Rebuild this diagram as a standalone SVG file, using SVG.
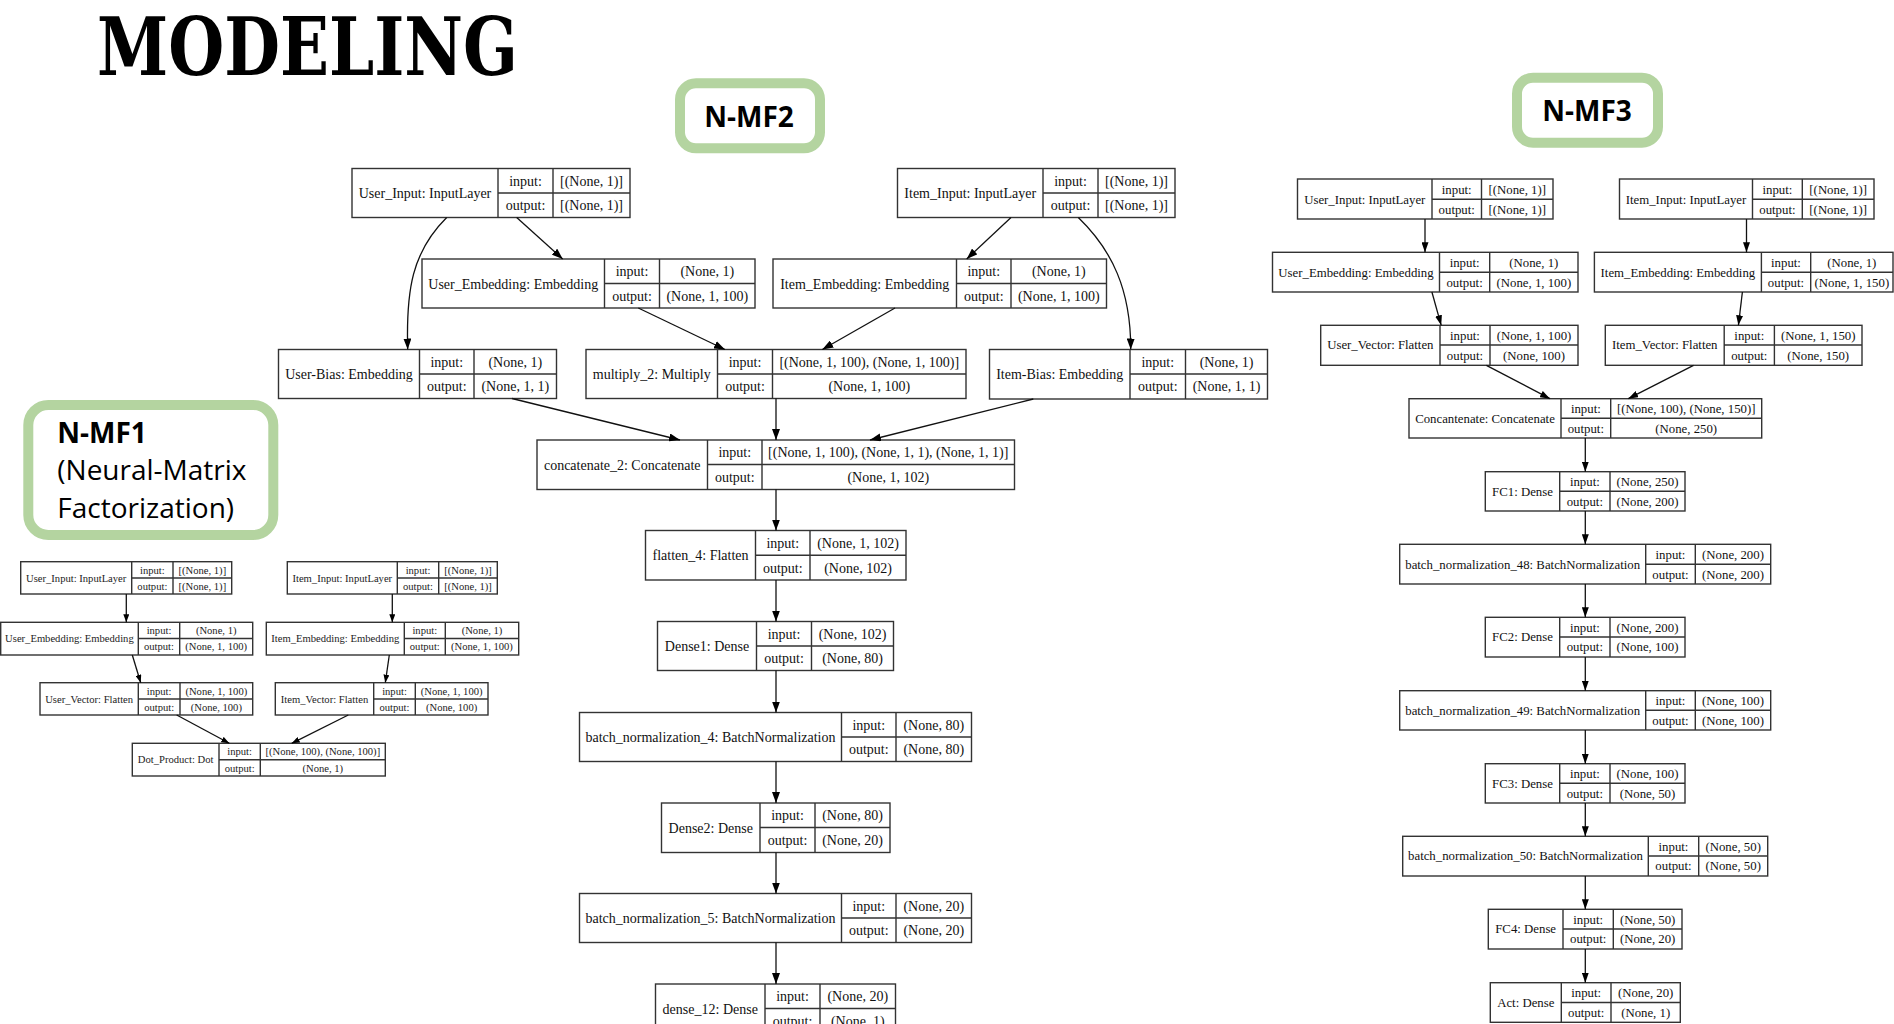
<svg xmlns="http://www.w3.org/2000/svg" width="1894" height="1024" viewBox="0 0 1894 1024">
<style>
.box{fill:#fff;stroke:#333;stroke-width:1.4}
.dv{fill:none;stroke:#333;stroke-width:1.4}
.n2{font-family:"Liberation Serif","Times New Roman",serif;font-size:14px;fill:#111;text-anchor:middle}
.n1{font-family:"Liberation Serif","Times New Roman",serif;font-size:10.6px;fill:#222;text-anchor:middle}
.n3{font-family:"Liberation Serif","Times New Roman",serif;font-size:12.8px;fill:#111;text-anchor:middle}
.edge{fill:none;stroke:#111;stroke-width:1.3}
.e2{marker-end:url(#a2)}
.e1{marker-end:url(#a1)}
.e3{marker-end:url(#a3)}
.tag{fill:#fff;stroke:#b4d4a0;stroke-width:10}
.tagt{font-family:"Open Sans","Noto Sans",sans-serif;font-size:28px;fill:#000}
</style>
<defs>
<marker id="a2" markerUnits="userSpaceOnUse" markerWidth="11" markerHeight="8" refX="11" refY="4" orient="auto"><path d="M0,0 L11,4 L0,8 z" fill="#000"/></marker>
<marker id="a1" markerUnits="userSpaceOnUse" markerWidth="8" markerHeight="6" refX="8" refY="3" orient="auto"><path d="M0,0 L8,3 L0,6 z" fill="#000"/></marker>
<marker id="a3" markerUnits="userSpaceOnUse" markerWidth="10" markerHeight="7" refX="10" refY="3.5" orient="auto"><path d="M0,0 L10,3.5 L0,7 z" fill="#000"/></marker>
</defs>
<rect width="1894" height="1024" fill="#fff"/>

<text x="97" y="75" font-family="DejaVu Serif" font-weight="bold" font-size="80" textLength="421" lengthAdjust="spacingAndGlyphs" fill="#000">MODELING</text>

<g id="tag-nmf2"><rect class="tag" x="680" y="83.3" width="140" height="65" rx="16"/><text class="tagt" x="749" y="126.7" text-anchor="middle" font-weight="bold">N-MF2</text></g>
<g id="tag-nmf3"><rect class="tag" x="1517" y="77.7" width="141" height="65" rx="16"/><text class="tagt" x="1587" y="120.7" text-anchor="middle" font-weight="bold">N-MF3</text></g>
<g id="tag-nmf1"><rect class="tag" x="28.3" y="405" width="245" height="130" rx="20"/><text class="tagt" x="57.3" y="442.7" font-weight="bold">N-MF1</text><text class="tagt" x="57.3" y="480">(Neural-Matrix</text><text class="tagt" x="57.3" y="518.3">Factorization)</text></g>

<!-- N-MF2 nodes -->
<g id="m2-user-input"><rect class="box" x="352" y="168.5" width="278" height="49"/><path class="dv" d="M498,168.5V217.5M553,168.5V217.5M498,193H630"/>
<text class="n2" x="425" y="198">User_Input: InputLayer</text><text class="n2" x="525.5" y="185.7">input:</text><text class="n2" x="525.5" y="210.2">output:</text><text class="n2" x="591.5" y="185.7">[(None, 1)]</text><text class="n2" x="591.5" y="210.2">[(None, 1)]</text></g>
<g id="m2-item-input"><rect class="box" x="897.5" y="168.5" width="277.5" height="49"/><path class="dv" d="M1043,168.5V217.5M1098,168.5V217.5M1043,193H1175"/>
<text class="n2" x="970.25" y="198">Item_Input: InputLayer</text><text class="n2" x="1070.5" y="185.7">input:</text><text class="n2" x="1070.5" y="210.2">output:</text><text class="n2" x="1136.5" y="185.7">[(None, 1)]</text><text class="n2" x="1136.5" y="210.2">[(None, 1)]</text></g>
<g id="m2-user-emb"><rect class="box" x="422" y="259" width="333" height="49"/><path class="dv" d="M604.5,259V308M659.5,259V308M604.5,283.5H755"/>
<text class="n2" x="513.25" y="288.5">User_Embedding: Embedding</text><text class="n2" x="632" y="276.2">input:</text><text class="n2" x="632" y="300.7">output:</text><text class="n2" x="707.25" y="276.2">(None, 1)</text><text class="n2" x="707.25" y="300.7">(None, 1, 100)</text></g>
<g id="m2-item-emb"><rect class="box" x="773" y="259" width="333.5" height="49"/><path class="dv" d="M956.5,259V308M1011,259V308M956.5,283.5H1106.5"/>
<text class="n2" x="864.75" y="288.5">Item_Embedding: Embedding</text><text class="n2" x="983.75" y="276.2">input:</text><text class="n2" x="983.75" y="300.7">output:</text><text class="n2" x="1058.75" y="276.2">(None, 1)</text><text class="n2" x="1058.75" y="300.7">(None, 1, 100)</text></g>
<g id="m2-user-bias"><rect class="box" x="278.5" y="349.5" width="278" height="49"/><path class="dv" d="M419.5,349.5V398.5M474,349.5V398.5M419.5,374H556.5"/>
<text class="n2" x="349" y="379">User-Bias: Embedding</text><text class="n2" x="446.75" y="366.7">input:</text><text class="n2" x="446.75" y="391.2">output:</text><text class="n2" x="515.25" y="366.7">(None, 1)</text><text class="n2" x="515.25" y="391.2">(None, 1, 1)</text></g>
<g id="m2-multiply"><rect class="box" x="586" y="349.5" width="380" height="49"/><path class="dv" d="M717.5,349.5V398.5M772.5,349.5V398.5M717.5,374H966"/>
<text class="n2" x="651.75" y="379">multiply_2: Multiply</text><text class="n2" x="745" y="366.7">input:</text><text class="n2" x="745" y="391.2">output:</text><text class="n2" x="869.25" y="366.7">[(None, 1, 100), (None, 1, 100)]</text><text class="n2" x="869.25" y="391.2">(None, 1, 100)</text></g>
<g id="m2-item-bias"><rect class="box" x="989.5" y="349.5" width="278" height="49.5"/><path class="dv" d="M1130,349.5V399M1185.5,349.5V399M1130,374H1267.5"/>
<text class="n2" x="1059.75" y="379">Item-Bias: Embedding</text><text class="n2" x="1157.75" y="366.7">input:</text><text class="n2" x="1157.75" y="391.2">output:</text><text class="n2" x="1226.5" y="366.7">(None, 1)</text><text class="n2" x="1226.5" y="391.2">(None, 1, 1)</text></g>
<g id="m2-concat"><rect class="box" x="537" y="440" width="477.5" height="49.5"/><path class="dv" d="M707.5,440V489.5M762,440V489.5M707.5,464.5H1014.5"/>
<text class="n2" x="622.25" y="469.5">concatenate_2: Concatenate</text><text class="n2" x="734.75" y="457.2">input:</text><text class="n2" x="734.75" y="482">output:</text><text class="n2" x="888.25" y="457.2">[(None, 1, 100), (None, 1, 1), (None, 1, 1)]</text><text class="n2" x="888.25" y="482">(None, 1, 102)</text></g>
<g id="m2-flatten"><rect class="box" x="645.5" y="530.5" width="260.5" height="49.5"/><path class="dv" d="M755.5,530.5V580M810,530.5V580M755.5,555.3H906"/>
<text class="n2" x="700.5" y="560.3">flatten_4: Flatten</text><text class="n2" x="782.75" y="548">input:</text><text class="n2" x="782.75" y="572.6">output:</text><text class="n2" x="858" y="548">(None, 1, 102)</text><text class="n2" x="858" y="572.6">(None, 102)</text></g>
<g id="m2-dense1"><rect class="box" x="657.5" y="621.5" width="236" height="49"/><path class="dv" d="M756.5,621.5V670.5M811.5,621.5V670.5M756.5,646H893.5"/>
<text class="n2" x="707" y="651">Dense1: Dense</text><text class="n2" x="784" y="638.7">input:</text><text class="n2" x="784" y="663.2">output:</text><text class="n2" x="852.5" y="638.7">(None, 102)</text><text class="n2" x="852.5" y="663.2">(None, 80)</text></g>
<g id="m2-bn4"><rect class="box" x="579.5" y="712.5" width="392" height="49"/><path class="dv" d="M841.5,712.5V761.5M896,712.5V761.5M841.5,737H971.5"/>
<text class="n2" x="710.5" y="742">batch_normalization_4: BatchNormalization</text><text class="n2" x="868.75" y="729.7">input:</text><text class="n2" x="868.75" y="754.2">output:</text><text class="n2" x="933.75" y="729.7">(None, 80)</text><text class="n2" x="933.75" y="754.2">(None, 80)</text></g>
<g id="m2-dense2"><rect class="box" x="661.5" y="803" width="228.5" height="49.5"/><path class="dv" d="M760,803V852.5M815,803V852.5M760,827.5H890"/>
<text class="n2" x="710.75" y="832.5">Dense2: Dense</text><text class="n2" x="787.5" y="820.2">input:</text><text class="n2" x="787.5" y="845">output:</text><text class="n2" x="852.5" y="820.2">(None, 80)</text><text class="n2" x="852.5" y="845">(None, 20)</text></g>
<g id="m2-bn5"><rect class="box" x="579.5" y="893.5" width="392" height="49"/><path class="dv" d="M841.5,893.5V942.5M896,893.5V942.5M841.5,918H971.5"/>
<text class="n2" x="710.5" y="923">batch_normalization_5: BatchNormalization</text><text class="n2" x="868.75" y="910.7">input:</text><text class="n2" x="868.75" y="935.2">output:</text><text class="n2" x="933.75" y="910.7">(None, 20)</text><text class="n2" x="933.75" y="935.2">(None, 20)</text></g>
<g id="m2-dense12"><rect class="box" x="655.5" y="984" width="240" height="49"/><path class="dv" d="M765,984V1033M820,984V1033M765,1008.5H895.5"/>
<text class="n2" x="710.25" y="1013.5">dense_12: Dense</text><text class="n2" x="792.5" y="1001.2">input:</text><text class="n2" x="792.5" y="1025.7">output:</text><text class="n2" x="857.75" y="1001.2">(None, 20)</text><text class="n2" x="857.75" y="1025.7">(None, 1)</text></g>

<!-- N-MF1 nodes -->
<g id="m1-user-input"><rect class="box" x="20.7" y="561.7" width="211" height="32.3"/><path class="dv" d="M131.7,561.7V594M173,561.7V594M131.7,578H231.7"/>
<text class="n1" x="76.2" y="581.7">User_Input: InputLayer</text><text class="n1" x="152.35" y="573.5">input:</text><text class="n1" x="152.35" y="589.7">output:</text><text class="n1" x="202.35" y="573.5">[(None, 1)]</text><text class="n1" x="202.35" y="589.7">[(None, 1)]</text></g>
<g id="m1-item-input"><rect class="box" x="287.3" y="561.7" width="210" height="32.3"/><path class="dv" d="M397.3,561.7V594M438.7,561.7V594M397.3,578H497.3"/>
<text class="n1" x="342.3" y="581.7">Item_Input: InputLayer</text><text class="n1" x="418" y="573.5">input:</text><text class="n1" x="418" y="589.7">output:</text><text class="n1" x="468" y="573.5">[(None, 1)]</text><text class="n1" x="468" y="589.7">[(None, 1)]</text></g>
<g id="m1-user-emb"><rect class="box" x="0.7" y="622.3" width="252" height="32.7"/><path class="dv" d="M138.3,622.3V655M179.7,622.3V655M138.3,638.5H252.7"/>
<text class="n1" x="69.4" y="642.2">User_Embedding: Embedding</text><text class="n1" x="159" y="634.1">input:</text><text class="n1" x="159" y="650.4">output:</text><text class="n1" x="216.2" y="634.1">(None, 1)</text><text class="n1" x="216.2" y="650.4">(None, 1, 100)</text></g>
<g id="m1-item-emb"><rect class="box" x="266.3" y="622.3" width="252.4" height="32.7"/><path class="dv" d="M404.3,622.3V655M445.3,622.3V655M404.3,638.5H518.7"/>
<text class="n1" x="335.3" y="642.2">Item_Embedding: Embedding</text><text class="n1" x="424.8" y="634.1">input:</text><text class="n1" x="424.8" y="650.4">output:</text><text class="n1" x="482" y="634.1">(None, 1)</text><text class="n1" x="482" y="650.4">(None, 1, 100)</text></g>
<g id="m1-user-vec"><rect class="box" x="40" y="682.7" width="212.7" height="32.3"/><path class="dv" d="M138.3,682.7V715M180,682.7V715M138.3,699H252.7"/>
<text class="n1" x="89.15" y="702.7">User_Vector: Flatten</text><text class="n1" x="159.15" y="694.5">input:</text><text class="n1" x="159.15" y="710.7">output:</text><text class="n1" x="216.35" y="694.5">(None, 1, 100)</text><text class="n1" x="216.35" y="710.7">(None, 100)</text></g>
<g id="m1-item-vec"><rect class="box" x="275.3" y="682.7" width="212.7" height="32.3"/><path class="dv" d="M373.7,682.7V715M415.3,682.7V715M373.7,699H488"/>
<text class="n1" x="324.5" y="702.7">Item_Vector: Flatten</text><text class="n1" x="394.5" y="694.5">input:</text><text class="n1" x="394.5" y="710.7">output:</text><text class="n1" x="451.65" y="694.5">(None, 1, 100)</text><text class="n1" x="451.65" y="710.7">(None, 100)</text></g>
<g id="m1-dot"><rect class="box" x="132.3" y="743.3" width="253" height="32.7"/><path class="dv" d="M219,743.3V776M260.3,743.3V776M219,759.7H385.3"/>
<text class="n1" x="175.65" y="763.4">Dot_Product: Dot</text><text class="n1" x="239.65" y="755.2">input:</text><text class="n1" x="239.65" y="771.5">output:</text><text class="n1" x="322.8" y="755.2">[(None, 100), (None, 100)]</text><text class="n1" x="322.8" y="771.5">(None, 1)</text></g>

<!-- N-MF3 nodes -->
<g id="m3-user-input"><rect class="box" x="1297.5" y="179" width="255.5" height="40"/><path class="dv" d="M1432,179V219M1481.5,179V219M1432,199.3H1553"/>
<text class="n3" x="1364.75" y="203.7">User_Input: InputLayer</text><text class="n3" x="1456.75" y="193.5">input:</text><text class="n3" x="1456.75" y="213.5">output:</text><text class="n3" x="1517.25" y="193.5">[(None, 1)]</text><text class="n3" x="1517.25" y="213.5">[(None, 1)]</text></g>
<g id="m3-item-input"><rect class="box" x="1619.5" y="179" width="254.5" height="40"/><path class="dv" d="M1752.5,179V219M1802.3,179V219M1752.5,199.3H1874"/>
<text class="n3" x="1686" y="203.7">Item_Input: InputLayer</text><text class="n3" x="1777.4" y="193.5">input:</text><text class="n3" x="1777.4" y="213.5">output:</text><text class="n3" x="1838.15" y="193.5">[(None, 1)]</text><text class="n3" x="1838.15" y="213.5">[(None, 1)]</text></g>
<g id="m3-user-emb"><rect class="box" x="1272.5" y="252.3" width="305.5" height="39.7"/><path class="dv" d="M1439.5,252.3V292M1489.7,252.3V292M1439.5,272.3H1578"/>
<text class="n3" x="1356" y="276.7">User_Embedding: Embedding</text><text class="n3" x="1464.6" y="266.7">input:</text><text class="n3" x="1464.6" y="286.5">output:</text><text class="n3" x="1533.85" y="266.7">(None, 1)</text><text class="n3" x="1533.85" y="286.5">(None, 1, 100)</text></g>
<g id="m3-item-emb"><rect class="box" x="1594.4" y="252.3" width="298.6" height="39.7"/><path class="dv" d="M1761.4,252.3V292M1810.7,252.3V292M1761.4,272.3H1893"/>
<text class="n3" x="1677.9" y="276.7">Item_Embedding: Embedding</text><text class="n3" x="1786" y="266.7">input:</text><text class="n3" x="1786" y="286.5">output:</text><text class="n3" x="1851.85" y="266.7">(None, 1)</text><text class="n3" x="1851.85" y="286.5">(None, 1, 150)</text></g>
<g id="m3-user-vec"><rect class="box" x="1320.7" y="325.3" width="257.3" height="40"/><path class="dv" d="M1440,325.3V365.3M1490,325.3V365.3M1440,345H1578"/>
<text class="n3" x="1380.35" y="349.4">User_Vector: Flatten</text><text class="n3" x="1465" y="339.5">input:</text><text class="n3" x="1465" y="359.5">output:</text><text class="n3" x="1534" y="339.5">(None, 1, 100)</text><text class="n3" x="1534" y="359.5">(None, 100)</text></g>
<g id="m3-item-vec"><rect class="box" x="1605.3" y="325.3" width="256.7" height="40"/><path class="dv" d="M1724.2,325.3V365.3M1774.4,325.3V365.3M1724.2,345H1862"/>
<text class="n3" x="1664.75" y="349.4">Item_Vector: Flatten</text><text class="n3" x="1749.3" y="339.5">input:</text><text class="n3" x="1749.3" y="359.5">output:</text><text class="n3" x="1818.2" y="339.5">(None, 1, 150)</text><text class="n3" x="1818.2" y="359.5">(None, 150)</text></g>
<g id="m3-concat"><rect class="box" x="1409" y="398.7" width="352.7" height="39.3"/><path class="dv" d="M1561,398.7V438M1610.7,398.7V438M1561,418.3H1761.7"/>
<text class="n3" x="1485" y="422.7">Concantenate: Concatenate</text><text class="n3" x="1585.85" y="412.9">input:</text><text class="n3" x="1585.85" y="432.5">output:</text><text class="n3" x="1686.2" y="412.9">[(None, 100), (None, 150)]</text><text class="n3" x="1686.2" y="432.5">(None, 250)</text></g>
<g id="m3-fc1"><rect class="box" x="1485.3" y="471.7" width="199.7" height="39.3"/><path class="dv" d="M1559.7,471.7V511M1610,471.7V511M1559.7,491.3H1685"/>
<text class="n3" x="1522.5" y="495.7">FC1: Dense</text><text class="n3" x="1584.85" y="485.9">input:</text><text class="n3" x="1584.85" y="505.5">output:</text><text class="n3" x="1647.5" y="485.9">(None, 250)</text><text class="n3" x="1647.5" y="505.5">(None, 200)</text></g>
<g id="m3-bn48"><rect class="box" x="1399.7" y="544.3" width="371" height="39.7"/><path class="dv" d="M1645.7,544.3V584M1695.3,544.3V584M1645.7,564.3H1770.7"/>
<text class="n3" x="1522.7" y="568.7">batch_normalization_48: BatchNormalization</text><text class="n3" x="1670.5" y="558.7">input:</text><text class="n3" x="1670.5" y="578.5">output:</text><text class="n3" x="1733" y="558.7">(None, 200)</text><text class="n3" x="1733" y="578.5">(None, 200)</text></g>
<g id="m3-fc2"><rect class="box" x="1485.3" y="617.3" width="199.7" height="39.7"/><path class="dv" d="M1559.7,617.3V657M1610,617.3V657M1559.7,637H1685"/>
<text class="n3" x="1522.5" y="641.4">FC2: Dense</text><text class="n3" x="1584.85" y="631.5">input:</text><text class="n3" x="1584.85" y="651.4">output:</text><text class="n3" x="1647.5" y="631.5">(None, 200)</text><text class="n3" x="1647.5" y="651.4">(None, 100)</text></g>
<g id="m3-bn49"><rect class="box" x="1399.7" y="690.7" width="371" height="39.3"/><path class="dv" d="M1645.7,690.7V730M1695.3,690.7V730M1645.7,710.3H1770.7"/>
<text class="n3" x="1522.7" y="714.7">batch_normalization_49: BatchNormalization</text><text class="n3" x="1670.5" y="704.9">input:</text><text class="n3" x="1670.5" y="724.5">output:</text><text class="n3" x="1733" y="704.9">(None, 100)</text><text class="n3" x="1733" y="724.5">(None, 100)</text></g>
<g id="m3-fc3"><rect class="box" x="1485.3" y="763.7" width="199.7" height="39.3"/><path class="dv" d="M1559.7,763.7V803M1610,763.7V803M1559.7,783.3H1685"/>
<text class="n3" x="1522.5" y="787.7">FC3: Dense</text><text class="n3" x="1584.85" y="777.9">input:</text><text class="n3" x="1584.85" y="797.5">output:</text><text class="n3" x="1647.5" y="777.9">(None, 100)</text><text class="n3" x="1647.5" y="797.5">(None, 50)</text></g>
<g id="m3-bn50"><rect class="box" x="1402.7" y="836.3" width="365" height="39.7"/><path class="dv" d="M1648.3,836.3V876M1698.7,836.3V876M1648.3,856H1767.7"/>
<text class="n3" x="1525.5" y="860.4">batch_normalization_50: BatchNormalization</text><text class="n3" x="1673.5" y="850.5">input:</text><text class="n3" x="1673.5" y="870.4">output:</text><text class="n3" x="1733.2" y="850.5">(None, 50)</text><text class="n3" x="1733.2" y="870.4">(None, 50)</text></g>
<g id="m3-fc4"><rect class="box" x="1488.3" y="909.3" width="193.7" height="39.7"/><path class="dv" d="M1563,909.3V949M1613.3,909.3V949M1563,929H1682"/>
<text class="n3" x="1525.65" y="933.4">FC4: Dense</text><text class="n3" x="1588.15" y="923.5">input:</text><text class="n3" x="1588.15" y="943.4">output:</text><text class="n3" x="1647.65" y="923.5">(None, 50)</text><text class="n3" x="1647.65" y="943.4">(None, 20)</text></g>
<g id="m3-act"><rect class="box" x="1490.3" y="982.7" width="190" height="39.6"/><path class="dv" d="M1561.3,982.7V1022.3M1611,982.7V1022.3M1561.3,1002.5H1680.3"/>
<text class="n3" x="1525.8" y="1006.9">Act: Dense</text><text class="n3" x="1586.15" y="997">input:</text><text class="n3" x="1586.15" y="1016.8">output:</text><text class="n3" x="1645.65" y="997">(None, 20)</text><text class="n3" x="1645.65" y="1016.8">(None, 1)</text></g>

<g id="connectors">
<path class="edge e2" d="M516.7,217.5L562.7,259"/>
<path class="edge e2" d="M446.7,217.5C412,252 406,290 407.7,349.5"/>
<path class="edge e2" d="M1011,217.5L966.7,259"/>
<path class="edge e2" d="M1078.3,217.5C1112,250 1131,290 1130.7,349.5"/>
<path class="edge e2" d="M638.3,308L725,349.5"/>
<path class="edge e2" d="M895,308L822.3,349.5"/>
<path class="edge e2" d="M512,398.5L680,440"/>
<path class="edge e2" d="M776,398.5L776,440"/>
<path class="edge e2" d="M1033.3,399L870,440"/>
<path class="edge e2" d="M776,489.5L776,530.5"/>
<path class="edge e2" d="M776,580L776,621.5"/>
<path class="edge e2" d="M776,670.5L776,712.5"/>
<path class="edge e2" d="M776,761.5L776,803"/>
<path class="edge e2" d="M776,852.5L776,893.5"/>
<path class="edge e2" d="M776,942.5L776,984"/>
<path class="edge e1" d="M126.3,594L126.3,622.3"/>
<path class="edge e1" d="M392.3,594L392.3,622.3"/>
<path class="edge e1" d="M132.3,655L140.7,682.7"/>
<path class="edge e1" d="M389.3,655L385.3,682.7"/>
<path class="edge e1" d="M176.7,715L229.3,743.3"/>
<path class="edge e1" d="M348.3,715L291.7,743.3"/>
<path class="edge e3" d="M1425,219L1425,252.3"/>
<path class="edge e3" d="M1746.5,219L1746.5,252.3"/>
<path class="edge e3" d="M1431.9,292L1441.2,325.3"/>
<path class="edge e3" d="M1742.4,292L1738.4,325.3"/>
<path class="edge e3" d="M1486.4,365.3L1550,398.7"/>
<path class="edge e3" d="M1693.5,365.3L1628.3,398.7"/>
<path class="edge e3" d="M1585.3,438L1585.3,471.7"/>
<path class="edge e3" d="M1585.3,511L1585.3,544.3"/>
<path class="edge e3" d="M1585.3,584L1585.3,617.3"/>
<path class="edge e3" d="M1585.3,657L1585.3,690.7"/>
<path class="edge e3" d="M1585.3,730L1585.3,763.7"/>
<path class="edge e3" d="M1585.3,803L1585.3,836.3"/>
<path class="edge e3" d="M1585.3,876L1585.3,909.3"/>
<path class="edge e3" d="M1585.3,949L1585.3,982.7"/>
</g>
</svg>
